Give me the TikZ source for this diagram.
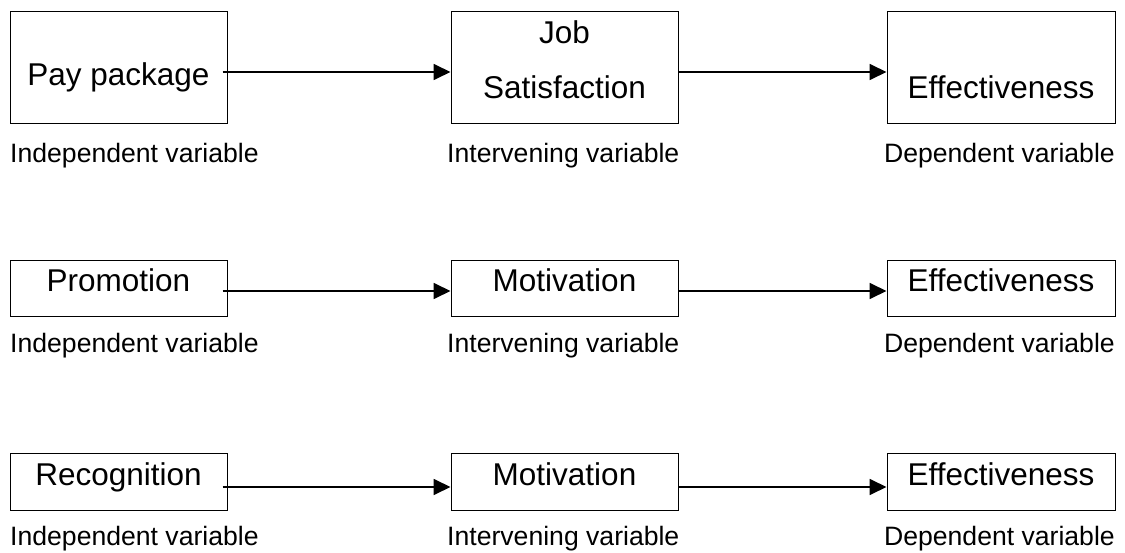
\documentclass[tikz,border=0pt]{standalone}
\usepackage{fontspec}
\setmainfont{Liberation Sans}
\usetikzlibrary{arrows.meta}
\begin{document}
\begin{tikzpicture}[x=1pt,y=-1pt,
  box/.style={draw, line width=1pt, inner sep=0pt},
  boxtext/.style={inner sep=0pt, anchor=base, align=center, font=\fontsize{31.5}{55}\selectfont},
  lbl/.style={inner sep=0pt, anchor=base west, font=\fontsize{26.6}{30}\selectfont},
  arr/.style={line width=1.8pt, -{Triangle[length=17pt,width=16pt]}}]
\useasboundingbox (0,0) rectangle (1125,553);
% row 1
\node[box, minimum width=217pt, minimum height=112pt] (b11) at (118.5,68) {};
\node[box, minimum width=227pt, minimum height=112pt] (b12) at (564.5,68) {};
\node[box, minimum width=228pt, minimum height=112pt] (b13) at (1001,68) {};
\node[boxtext] (t11) at (118.5,86) {Pay package};
\node[boxtext] (t12) at (564.5,99) {Job\\Satisfaction};
\node[boxtext] (t13) at (1001,99) {Effectiveness};
\node[lbl] (l11) at (10,163) {Independent variable};
\node[lbl] (l12) at (447,163) {Intervening variable};
\node[lbl, anchor=base east] (l13) at (1115,163) {Dependent variable};
\draw[arr] ([xshift=-5pt,yshift=-4pt]b11.east) -- ([yshift=-4pt]b12.west);
\draw[arr] ([yshift=-4pt]b12.east) -- ([yshift=-4pt]b13.west);
% row 2
\node[box, minimum width=217pt, minimum height=56pt] (b21) at (118.5,289) {};
\node[box, minimum width=227pt, minimum height=56pt] (b22) at (564.5,289) {};
\node[box, minimum width=228pt, minimum height=56pt] (b23) at (1001,289) {};
\node[boxtext] (t21) at (118.5,292) {Promotion};
\node[boxtext] (t22) at (564.5,292) {Motivation};
\node[boxtext] (t23) at (1001,292) {Effectiveness};
\node[lbl] (l21) at (10,353) {Independent variable};
\node[lbl] (l22) at (447,353) {Intervening variable};
\node[lbl, anchor=base east] (l23) at (1115,353) {Dependent variable};
\draw[arr] ([xshift=-5pt,yshift=-2pt]b21.east) -- ([yshift=-2pt]b22.west);
\draw[arr] ([yshift=-2pt]b22.east) -- ([yshift=-2pt]b23.west);
% row 3
\node[box, minimum width=217pt, minimum height=57pt] (b31) at (118.5,481.5) {};
\node[box, minimum width=227pt, minimum height=57pt] (b32) at (564.5,481.5) {};
\node[box, minimum width=228pt, minimum height=57pt] (b33) at (1001,481.5) {};
\node[boxtext] (t31) at (118.5,485) {Recognition};
\node[boxtext] (t32) at (564.5,485) {Motivation};
\node[boxtext] (t33) at (1001,485) {Effectiveness};
\node[lbl] (l31) at (10,545) {Independent variable};
\node[lbl] (l32) at (447,545) {Intervening variable};
\node[lbl, anchor=base east] (l33) at (1115,545) {Dependent variable};
\draw[arr] ([xshift=-5pt,yshift=-5.5pt]b31.east) -- ([yshift=-5.5pt]b32.west);
\draw[arr] ([yshift=-5.5pt]b32.east) -- ([yshift=-5.5pt]b33.west);
\end{tikzpicture}
\end{document}
